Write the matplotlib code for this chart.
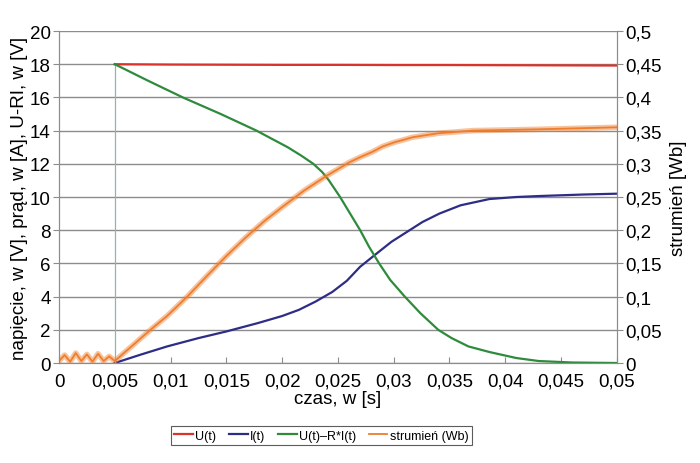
import matplotlib.pyplot as plt
from matplotlib.ticker import FuncFormatter

plt.rcParams['font.family'] = ['Liberation Sans', 'DejaVu Sans']

# czas [s] and values
t_u = [0.005, 0.010, 0.015, 0.020, 0.025, 0.030, 0.035, 0.040, 0.045, 0.050]
u = [18.0, 17.98, 17.97, 17.96, 17.96, 17.95, 17.95, 17.94, 17.93, 17.92]

t_i = [0.005, 0.0073, 0.0097, 0.0125, 0.015, 0.0178, 0.0200, 0.0215, 0.0230, 0.0245,
       0.0258, 0.0270, 0.0283, 0.0298, 0.0312, 0.0326, 0.0341, 0.036, 0.0386, 0.0410,
       0.0431, 0.047, 0.050]
i_t = [0.0, 0.5, 1.0, 1.5, 1.9, 2.4, 2.83, 3.2, 3.7, 4.28,
       4.95, 5.8, 6.5, 7.3, 7.9, 8.5, 9.0, 9.5, 9.88, 10.0,
       10.06, 10.15, 10.2]

t_uri = [0.005, 0.005, 0.005, 0.008, 0.0111, 0.0145, 0.0177, 0.0205, 0.0217, 0.0228,
         0.0236, 0.0242, 0.0247, 0.0252, 0.0261, 0.027, 0.0278, 0.0287, 0.0297, 0.031,
         0.0324, 0.034, 0.0352, 0.0367, 0.0386, 0.041, 0.043, 0.046, 0.050]
uri = [0.0, 0.0, 18.0, 17.0, 16.0, 15.0, 14.0, 13.0, 12.5, 12.0,
       11.5, 11.0, 10.5, 10.0, 9.0, 8.0, 7.0, 6.0, 5.0, 4.0,
       3.0, 2.0, 1.5, 1.0, 0.66, 0.3, 0.12, 0.03, 0.0]

t_flux = [0.0, 0.0005, 0.001, 0.0015, 0.002, 0.0025, 0.003, 0.0035, 0.004, 0.0045,
          0.005, 0.0065, 0.0082, 0.0097, 0.0115, 0.0132, 0.015, 0.0168, 0.0185, 0.0201,
          0.022, 0.024, 0.0252, 0.026, 0.027, 0.0281, 0.029, 0.030, 0.0317, 0.034,
          0.0371, 0.0431, 0.050]
flux = [0.003, 0.012, 0.002, 0.015, 0.003, 0.013, 0.002, 0.014, 0.003, 0.01,
        0.003, 0.025, 0.05, 0.071, 0.10, 0.13, 0.161, 0.19, 0.215, 0.236,
        0.26, 0.282, 0.294, 0.302, 0.31, 0.318, 0.326, 0.332, 0.34, 0.346,
        0.35, 0.352, 0.355]

x_ticks = [0, 0.005, 0.01, 0.015, 0.02, 0.025, 0.03, 0.035, 0.04, 0.045, 0.05]


def comma(v, pos):
    s = ('%.3f' % v).rstrip('0').rstrip('.')
    return s.replace('.', ',')


fig = plt.figure(figsize=(7, 4.64), dpi=100)
ax = fig.add_axes([0.0843, 0.2155, 0.7967, 0.7155])
ax2 = ax.twinx()

c_red = '#d8342c'
c_blue = '#2d2d85'
c_green = '#2e8b3c'
c_orange = '#ef7d2c'
grid_c = '#8c8c8c'

ax.plot(t_u, u, color=c_red, lw=1.6, label='U(t)')
ax.plot(t_i, i_t, color=c_blue, lw=1.6, label='I(t)')
ax.plot(t_uri[1:3], uri[1:3], color='#8fb5b0', lw=0.9)
ax.plot(t_uri[2:], uri[2:], color=c_green, lw=1.6, label='U(t)–R*I(t)')

ax2.plot(t_flux, flux, color=c_orange, lw=4, alpha=0.45)
ax2.plot(t_flux, flux, color=c_orange, lw=1.3, label='strumień (Wb)')

ax.set_xlim(0, 0.05)
ax.set_ylim(0, 20)
ax2.set_ylim(0, 0.5)
ax.set_xticks(x_ticks)
ax.set_yticks(range(0, 21, 2))
ax2.set_yticks([0, 0.05, 0.1, 0.15, 0.2, 0.25, 0.3, 0.35, 0.4, 0.45, 0.5])
ax.xaxis.set_major_formatter(FuncFormatter(comma))
ax2.yaxis.set_major_formatter(FuncFormatter(comma))

ax.yaxis.grid(True, color=grid_c, lw=1.0)
ax.set_axisbelow(True)
for a in (ax, ax2):
    for s in a.spines.values():
        s.set_color(grid_c)
ax.spines['top'].set_visible(False)
ax2.spines['top'].set_visible(False)

ax.tick_params(axis='x', direction='in', length=4, color=grid_c, labelsize=13.5, pad=7)
ax.tick_params(axis='y', direction='out', length=4, color=grid_c, labelsize=13.5, pad=2)
ax2.tick_params(axis='y', direction='out', length=4, color=grid_c, labelsize=13.5, pad=2)

ax.set_xlabel('czas, w [s]', fontsize=13.5, labelpad=0)
ax.set_ylabel('napięcie, w [V], prąd, w [A], U-RI, w [V]', fontsize=13.5, labelpad=1)
ax2.set_ylabel('strumień [Wb]', fontsize=13.5, labelpad=6)

h1, l1 = ax.get_legend_handles_labels()
h2, l2 = ax2.get_legend_handles_labels()
leg = fig.legend(h1 + h2, l1 + l2, loc='center', bbox_to_anchor=(0.459, 0.059), ncol=4,
                 fontsize=9, frameon=True, fancybox=False, edgecolor='#333333',
                 handlelength=1.5, handletextpad=0.2, columnspacing=1.0,
                 borderpad=0.25)
leg.get_frame().set_linewidth(0.8)

fig.savefig('out.png', dpi=100)
